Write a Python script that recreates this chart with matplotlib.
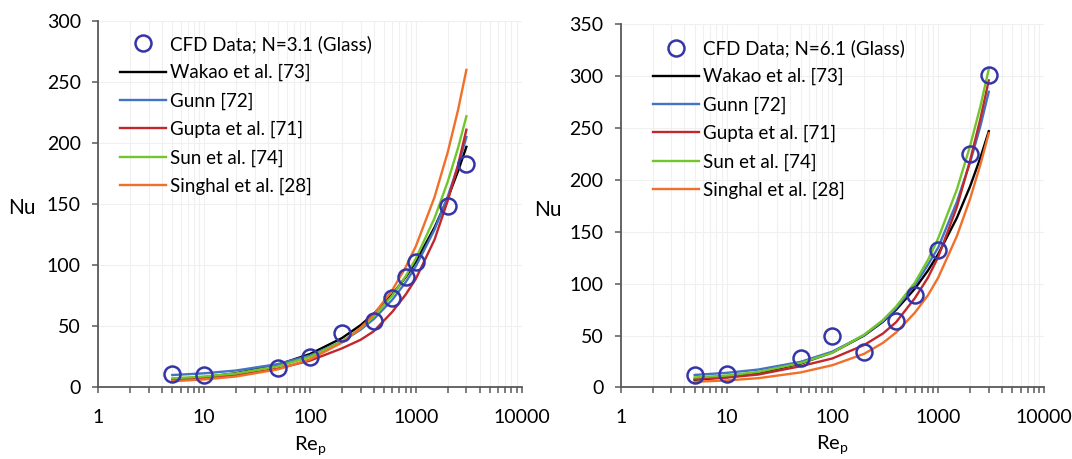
import numpy as np
import matplotlib
matplotlib.use("Agg")
import matplotlib.pyplot as plt
from matplotlib.ticker import LogLocator, FixedLocator, FuncFormatter, MultipleLocator

plt.rcParams['font.family'] = ['Lato', 'DejaVu Sans']
plt.rcParams['mathtext.fontset'] = 'custom'
plt.rcParams['mathtext.rm'] = 'Lato'

# Reynolds numbers for the CFD runs and for the correlation curves
re_cfd_a = [5, 10, 50, 100, 200, 400, 600, 800, 1000, 2000, 3000]
nu_cfd_a = [10.9, 10.1, 16.1, 25.1, 44.2, 54.3, 73.6, 90.5, 102.5, 148.4, 183.0]

re_cfd_b = [5, 10, 50, 100, 200, 400, 600, 1000, 2000, 3000]
nu_cfd_b = [12.2, 12.9, 28.3, 49.9, 33.8, 64.3, 88.8, 132.5, 225.0, 301.7]

re_corr = [5, 10, 20, 50, 100, 200, 300, 400, 600, 800, 1000, 1500, 2000, 2500, 3000]

# N = 3.1
wakao_a = [6.2, 8.4, 11.7, 18.7, 27.4, 40.4, 51.0, 60.3, 76.3, 90.3, 103.0, 131.0, 155.0, 177.0, 197.0]
gunn_a = [10.2, 11.6, 13.9, 19.2, 26.2, 37.6, 47.3, 56.0, 71.9, 86.1, 99.3, 129.2, 156.3, 181.3, 205.0]
gupta_a = [6.0, 7.5, 10.0, 15.5, 22.0, 32.0, 39.0, 46.0, 62.0, 76.0, 89.0, 121.0, 153.0, 182.0, 211.0]
sun_a = [7.5, 9.0, 11.5, 17.4, 25.0, 37.6, 48.3, 58.0, 75.4, 91.0, 105.6, 138.6, 168.5, 196.0, 222.0]
singhal_a = [5.1, 6.6, 9.0, 14.9, 23.0, 36.7, 48.7, 59.7, 79.9, 98.4, 115.7, 155.8, 192.6, 227.0, 260.0]

# N = 6.1
wakao_b = [7.3, 10.0, 14.1, 23.0, 33.8, 50.2, 63.4, 75.0, 95.2, 112.8, 128.7, 163.6, 194.0, 221.5, 247.0]
gunn_b = [12.1, 14.1, 17.3, 24.7, 34.6, 50.5, 64.0, 76.4, 98.5, 118.4, 135.0, 179.0, 217.0, 252.0, 285.0]
gupta_b = [8.2, 9.5, 12.5, 20.5, 28.0, 41.0, 52.0, 63.0, 86.0, 106.0, 126.0, 174.0, 219.0, 259.0, 296.0]
sun_b = [9.7, 11.5, 15.0, 23.5, 33.5, 51.0, 65.0, 78.0, 101.0, 123.0, 144.0, 191.0, 233.0, 271.0, 307.0]
singhal_b = [5.5, 6.8, 9.0, 14.5, 21.5, 32.5, 43.0, 53.0, 72.0, 89.0, 106.0, 146.0, 182.0, 215.0, 245.0]

line_names = ['Wakao et al. [73]', 'Gunn [72]', 'Gupta et al. [71]', 'Sun et al. [74]', 'Singhal et al. [28]']
line_colors = ['#000000', '#4472C4', '#C0282D', '#72C52B', '#F0702A']
marker_color = '#3535A8'
axis_color = '#595959'


def draw_panel(ax, re_pts, nu_pts, curves, n_label, ymax, leg_anchor):
    ax.plot(re_pts, nu_pts, linestyle='none', marker='o', markersize=11.5,
            markerfacecolor='none', markeredgecolor=marker_color, markeredgewidth=1.8,
            label='CFD Data; N=%s (Glass)' % n_label, zorder=5)
    for vals, name, col in zip(curves, line_names, line_colors):
        ax.plot(re_corr, vals, color=col, linewidth=1.7, label=name, zorder=3)

    ax.set_xscale('log')
    ax.set_xlim(1, 10000)
    ax.set_ylim(0, ymax)
    ax.xaxis.set_major_locator(FixedLocator([1, 10, 100, 1000, 10000]))
    ax.xaxis.set_minor_locator(LogLocator(base=10, subs=np.arange(2, 10)))
    ax.xaxis.set_major_formatter(FuncFormatter(lambda v, p: '%d' % v))
    ax.xaxis.set_minor_formatter(FuncFormatter(lambda v, p: ''))
    ax.yaxis.set_major_locator(MultipleLocator(50))

    ax.grid(which='major', axis='y', color='#F0F0F0', linewidth=0.8)
    ax.grid(which='both', axis='x', color='#F0F0F0', linewidth=0.8)
    ax.set_axisbelow(True)

    for s in ['top', 'right']:
        ax.spines[s].set_visible(False)
    for s in ['left', 'bottom']:
        ax.spines[s].set_color(axis_color)
        ax.spines[s].set_linewidth(1.3)

    ax.tick_params(axis='both', which='both', color=axis_color, width=1.1, labelsize=14, labelcolor='black')
    ax.tick_params(axis='x', which='both', length=4.5, pad=11)
    ax.tick_params(axis='y', which='major', length=4.5, pad=8)

    ax.set_ylabel('Nu', fontsize=15, rotation=0, va='center', ha='center')
    ax.set_xlabel(r'Re$_\mathregular{p}$', fontsize=14.5, va='top')

    leg = ax.legend(loc='upper left', bbox_to_anchor=leg_anchor, frameon=False,
                    fontsize=13.5, handlelength=2.45, handletextpad=0.22,
                    labelspacing=0.59, borderaxespad=0.0)
    return leg


fig = plt.figure(figsize=(10.72, 4.59), dpi=100)
ax1 = fig.add_axes([0.0917, 0.1558, 0.395, 0.7985])
ax2 = fig.add_axes([0.579, 0.1558, 0.395, 0.791])

draw_panel(ax1, re_cfd_a, nu_cfd_a, [wakao_a, gunn_a, gupta_a, sun_a, singhal_a], '3.1', 300, (0.034, 0.982))
draw_panel(ax2, re_cfd_b, nu_cfd_b, [wakao_b, gunn_b, gupta_b, sun_b, singhal_b], '6.1', 350, (0.059, 0.98))

ax1.yaxis.set_label_coords(-0.18, 0.49)
ax2.yaxis.set_label_coords(-0.172, 0.49)
ax1.xaxis.set_label_coords(0.5, -0.128)
ax2.xaxis.set_label_coords(0.5, -0.128)

fig.savefig('out.png', dpi=100)
